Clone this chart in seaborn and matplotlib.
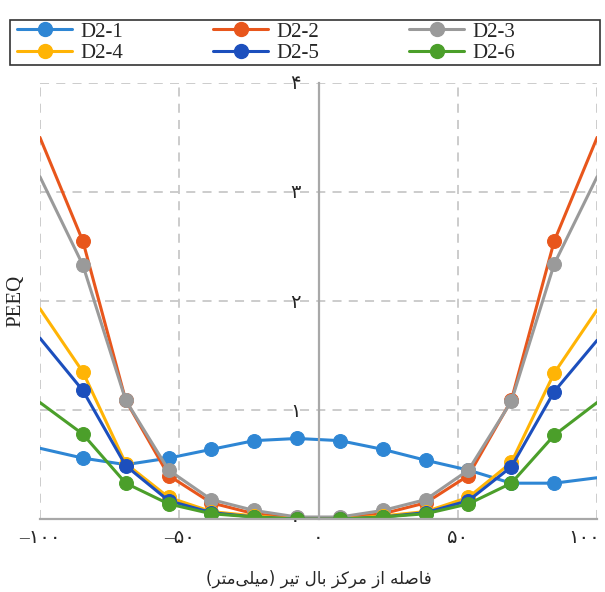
import matplotlib
matplotlib.use('Agg')
import matplotlib.pyplot as plt
from matplotlib.lines import Line2D
from matplotlib.patches import Rectangle
from matplotlib.transforms import ScaledTranslation
import seaborn as sns

sns.set_style('white')
plt.rcParams['font.family'] = ['Liberation Serif', 'DejaVu Sans']

# distance from wing centre (mm)
distance = [-100, -84.6, -69.2, -53.8, -38.5, -23.1, -7.7, 7.7, 23.1, 38.5, 53.8, 69.2, 84.6, 100]

d2_1 = [0.65, 0.56, 0.50, 0.56, 0.64, 0.72, 0.74, 0.72, 0.64, 0.54, 0.45, 0.33, 0.33, 0.38]
d2_2 = [3.50, 2.55, 1.09, 0.40, 0.15, 0.05, 0.01, 0.01, 0.05, 0.15, 0.40, 1.09, 2.55, 3.50]
d2_3 = [3.14, 2.33, 1.09, 0.45, 0.18, 0.08, 0.02, 0.02, 0.08, 0.18, 0.45, 1.08, 2.34, 3.14]
d2_4 = [1.93, 1.35, 0.51, 0.20, 0.07, 0.03, 0.00, 0.00, 0.03, 0.07, 0.20, 0.52, 1.34, 1.92]
d2_5 = [1.66, 1.18, 0.49, 0.17, 0.06, 0.02, 0.00, 0.00, 0.02, 0.06, 0.17, 0.48, 1.17, 1.64]
d2_6 = [1.07, 0.78, 0.33, 0.14, 0.05, 0.02, 0.00, 0.00, 0.02, 0.05, 0.14, 0.33, 0.77, 1.07]

series_names = ['D2-1', 'D2-2', 'D2-3', 'D2-4', 'D2-5', 'D2-6']
series_values = [d2_1, d2_2, d2_3, d2_4, d2_5, d2_6]
colors = ['#2e86d4', '#e8561c', '#9a9a9a', '#ffb405', '#1c4fbd', '#4b9f2a']

x_ticks = [-100, -50, 0, 50, 100]
x_tick_labels = ['–۱۰۰', '–۵۰', '۰', '۵۰', '۱۰۰']
y_ticks = [0, 1, 2, 3, 4]
y_tick_labels = ['۰', '۱', '۲', '۳', '۴']
x_title = 'فاصله از مرکز بال تیر (میلی\u200cمتر)'

# matplotlib does no arabic shaping, so pick the joined glyph forms by hand
FORMS = {
    'ف': ('\ufed1', '\ufed2', '\ufed3', '\ufed4'),
    'ص': ('\ufeb9', '\ufeba', '\ufebb', '\ufebc'),
    'ل': ('\ufedd', '\ufede', '\ufedf', '\ufee0'),
    'ه': ('\ufee9', '\ufeea', '\ufeeb', '\ufeec'),
    'م': ('\ufee1', '\ufee2', '\ufee3', '\ufee4'),
    'ک': ('\ufb8e', '\ufb8f', '\ufb90', '\ufb91'),
    'ب': ('\ufe8f', '\ufe90', '\ufe91', '\ufe92'),
    'ت': ('\ufe95', '\ufe96', '\ufe97', '\ufe98'),
    'ی': ('\ufbfc', '\ufbfd', '\ufbfe', '\ufbff'),
    'ا': ('\ufe8d', '\ufe8e', None, None),
    'ز': ('\ufeaf', '\ufeb0', None, None),
    'ر': ('\ufead', '\ufeae', None, None),
}
DUAL = {k for k, v in FORMS.items() if v[2] is not None}


def shape(text):
    out = []
    for i, ch in enumerate(text):
        if ch not in FORMS:
            out.append(ch)
            continue
        prev = text[i - 1] if i > 0 else ''
        nxt = text[i + 1] if i + 1 < len(text) else ''
        join_prev = prev in DUAL
        join_next = ch in DUAL and nxt in FORMS
        iso, fin, ini, med = FORMS[ch]
        if join_prev and join_next:
            out.append(med)
        elif join_prev:
            out.append(fin)
        elif join_next:
            out.append(ini)
        else:
            out.append(iso)
    visual = ''.join(out).replace('\u200c', '')[::-1]
    return visual.translate(str.maketrans('()', ')('))


fig, ax = plt.subplots(figsize=(6.05, 5.92), dpi=100)
fig.subplots_adjust(left=0.066, right=0.987, bottom=0.123, top=0.86)

for name, vals, col in zip(series_names, series_values, colors):
    sns.lineplot(x=distance, y=vals, ax=ax, color=col, linewidth=2.2,
                 marker='o', markersize=10, markeredgecolor=col,
                 markevery=list(range(1, len(distance) - 1)),
                 label=name, legend=False)

ax.set_xlim(-100, 100)
ax.set_ylim(0, 4)
ax.set_xticks(x_ticks)
ax.set_xticklabels(x_tick_labels)
ax.set_yticks(y_ticks)
ax.set_yticklabels(y_tick_labels)
ax.tick_params(length=0, labelsize=14)
ax.tick_params(axis='y', pad=13)
ax.tick_params(axis='x', pad=8)

# last x label sits at the figure edge; nudge it left so it stays inside
last = ax.get_xticklabels()[-1]
last.set_transform(last.get_transform() + ScaledTranslation(-9 / 72, 0, fig.dpi_scale_trans))

ax.grid(True, linestyle=(0, (5, 4)), color='#c8c8c8', linewidth=1.3)
ax.set_axisbelow(True)

ax.spines['left'].set_position(('data', 0))
for side in ['left', 'bottom']:
    ax.spines[side].set_color('#a8a8a8')
    ax.spines[side].set_linewidth(1.6)
for side in ['top', 'right']:
    ax.spines[side].set_visible(False)

ax.set_ylabel('PEEQ', fontsize=15)
ax.yaxis.set_label_coords(-0.027, 0.5)
ax.set_xlabel(shape(x_title), family='DejaVu Sans', fontsize=12, labelpad=16)

# legend in row order, like the original, inside a plain box
handles = [Line2D([], [], color=c, linewidth=2.2, marker='o', markersize=10)
           for c in colors]
order = [0, 3, 1, 4, 2, 5]
fig.legend([handles[i] for i in order], [series_names[i] for i in order],
           ncol=3, loc='upper left', bbox_to_anchor=(17 / 605, 1 - 22 / 592),
           frameon=False, fontsize=15, handlelength=2.65, handletextpad=0.4,
           columnspacing=4.3, labelspacing=0.1, borderpad=0, borderaxespad=0)
fig.patches.append(Rectangle((10 / 605, 1 - 65 / 592), 590 / 605, 45 / 592,
                             transform=fig.transFigure, fill=False,
                             edgecolor='#333333', linewidth=1.2))

fig.savefig('out.png', dpi=100)
